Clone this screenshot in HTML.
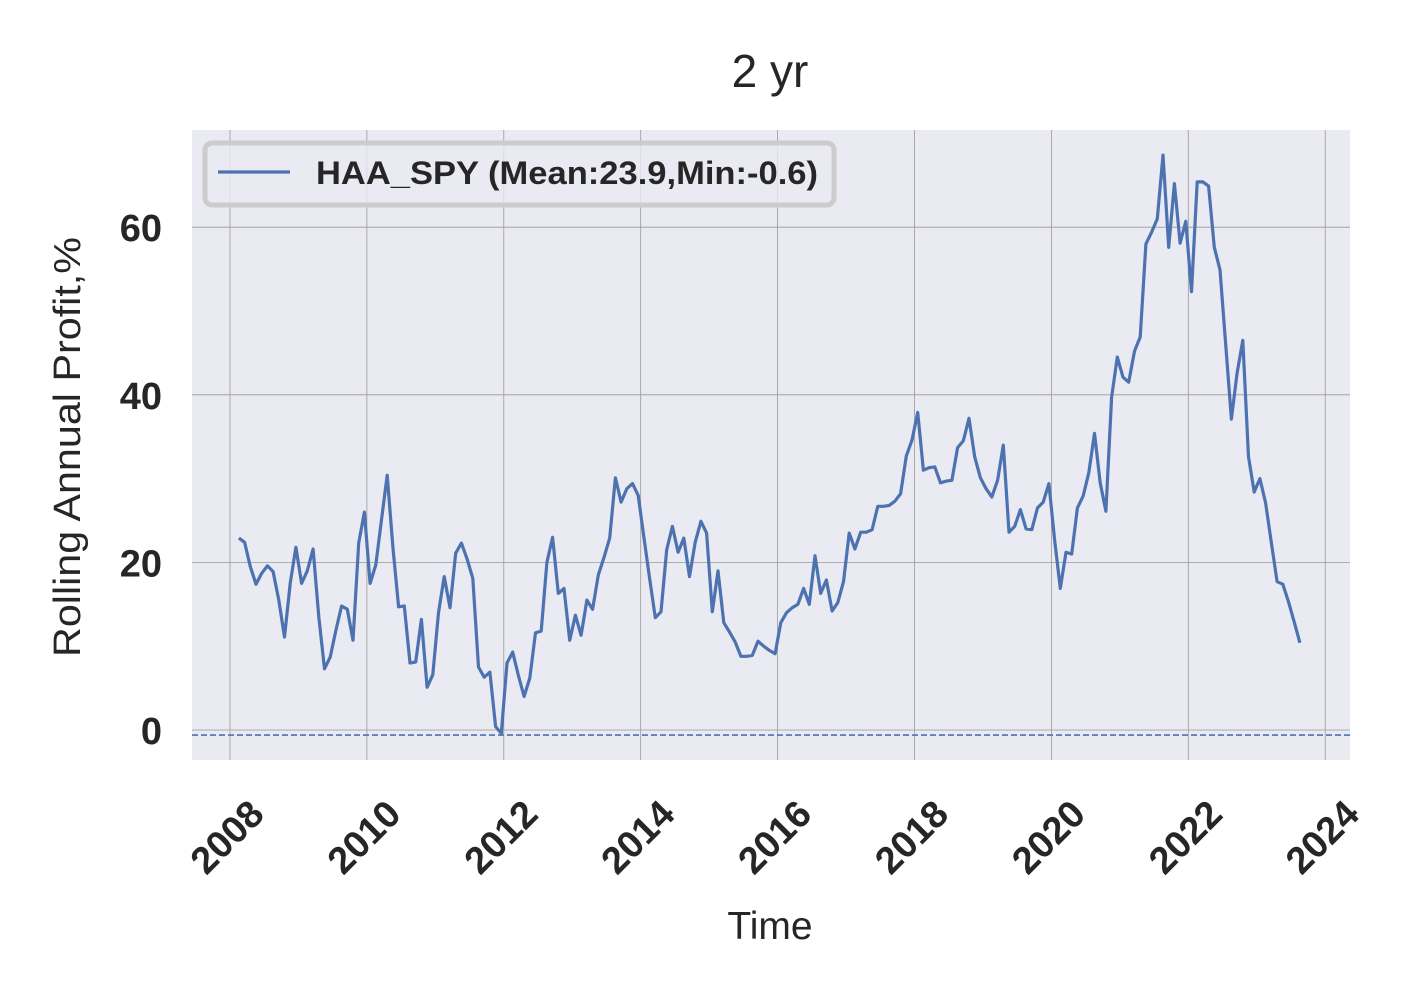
<!DOCTYPE html>
<html><head><meta charset="utf-8"><style>
html,body{margin:0;padding:0;background:#fff;}
svg text{font-family:"Liberation Sans",sans-serif;fill:#262626;}
</style></head><body>
<svg id="chart" width="1419" height="996" xmlns="http://www.w3.org/2000/svg">
<text x="770" y="87" font-size="46" text-anchor="middle">2 yr</text>
<rect x="192" y="130" width="1158" height="630" fill="#eaeaf2"/>
<g id="grid"></g>
<g id="ticks"></g>
<line id="minline" stroke="#4c72b0" stroke-width="1.6" stroke-dasharray="6,3"/>
<path id="series" fill="none" stroke="#4c72b0" stroke-width="3.2" stroke-linejoin="round"/>
<g>
<rect x="205" y="143" width="629" height="62" rx="7" fill="#eaeaf2" fill-opacity="0.8" stroke="#cccccc" stroke-width="5"/>
<line x1="218" y1="172" x2="290" y2="172" stroke="#4c72b0" stroke-width="3.2"/>
<text x="316" y="184" font-size="32" font-weight="bold" textLength="502" lengthAdjust="spacingAndGlyphs">HAA_SPY (Mean:23.9,Min:-0.6)</text>
</g>
<text transform="translate(80,447) rotate(-90)" font-size="38" text-anchor="middle" textLength="420" lengthAdjust="spacingAndGlyphs">Rolling Annual Profit,%</text>
<text x="770" y="939" font-size="39" text-anchor="middle">Time</text>
</svg>
<script>
const startYear = 2008.13;
const values = [22.9,22.4,19.5,17.4,18.7,19.6,18.9,15.5,11.1,17.5,21.8,17.5,19.0,21.6,13.5,7.3,8.7,11.9,14.8,14.4,10.7,22.3,26.0,17.5,19.7,25.1,30.4,21.8,14.7,14.8,8.0,8.1,13.2,5.1,6.6,14.0,18.3,14.6,21.1,22.3,20.4,18.1,7.5,6.3,6.9,0.4,-0.4,8.0,9.3,6.5,4.0,6.2,11.6,11.8,20.0,23.0,16.3,16.9,10.7,13.7,11.3,15.5,14.4,18.5,20.6,22.9,30.1,27.2,28.8,29.4,28.0,23.0,18.1,13.4,14.1,21.5,24.3,21.2,22.9,18.3,22.4,24.9,23.5,14.1,19.0,12.8,11.7,10.5,8.8,8.8,8.9,10.6,10.0,9.5,9.1,12.8,14.0,14.6,15.0,16.9,15.0,20.8,16.3,17.9,14.2,15.2,17.7,23.5,21.6,23.6,23.6,23.9,26.7,26.7,26.8,27.3,28.2,32.7,34.6,37.9,31.0,31.3,31.4,29.5,29.7,29.8,33.7,34.5,37.2,32.6,30.1,28.8,27.8,29.8,34.0,23.6,24.3,26.3,24.0,23.9,26.5,27.2,29.4,22.7,16.9,21.2,21.0,26.5,27.9,30.7,35.4,29.5,26.1,39.7,44.5,42.1,41.5,45.2,46.9,58.0,59.4,61.0,68.6,57.6,65.2,58.1,60.7,52.3,65.4,65.4,64.9,57.6,54.9,46.0,37.1,42.6,46.5,32.6,28.4,30.0,27.1,22.3,17.7,17.4,15.3,12.9,10.4];
const xTicks = [2008,2010,2012,2014,2016,2018,2020,2022,2024];
const yTicks = [0,20,40,60];
const minValue = -0.6;

const NS = "http://www.w3.org/2000/svg";
const X0 = 192, X1 = 1350, Y0 = 130, Y1 = 760;
function xScale(yr){ return 230 + (yr - 2008) * 68.45; }
function yScale(v){ return 730 - v * 8.38; }
const grid = document.getElementById('grid');
const ticks = document.getElementById('ticks');
xTicks.forEach(t => {
  const l = document.createElementNS(NS,'line');
  
  
  l.setAttribute('x1', xScale(t)); l.setAttribute('x2', xScale(t));
  l.setAttribute('y1', Y0); l.setAttribute('y2', Y1);
  l.setAttribute('stroke', '#999'); l.setAttribute('stroke-width', '0.8');
  grid.appendChild(l);
  const tx = document.createElementNS(NS,'text');
  
  
  const cx = xScale(t) - 3, cy = 837;
  tx.setAttribute('transform', `translate(${cx},${cy}) rotate(-45)`);
  tx.setAttribute('text-anchor', 'middle');
  tx.setAttribute('dy', '13');
  tx.setAttribute('font-size', '38');
  tx.setAttribute('font-weight', 'bold');
  tx.textContent = t;
  ticks.appendChild(tx);
});
yTicks.forEach(t => {
  const l = document.createElementNS(NS,'line');
  
  
  l.setAttribute('x1', X0); l.setAttribute('x2', X1);
  l.setAttribute('y1', yScale(t)); l.setAttribute('y2', yScale(t));
  l.setAttribute('stroke', '#999'); l.setAttribute('stroke-width', '0.8');
  grid.appendChild(l);
  const tx = document.createElementNS(NS,'text');
  
  
  tx.setAttribute('x', 162); tx.setAttribute('y', yScale(t) + 14);
  tx.setAttribute('text-anchor', 'end');
  tx.setAttribute('font-size', '38');
  tx.setAttribute('font-weight', 'bold');
  tx.textContent = t;
  ticks.appendChild(tx);
});
const ml = document.getElementById('minline');
ml.setAttribute('x1', X0); ml.setAttribute('x2', X1);
ml.setAttribute('y1', yScale(minValue)); ml.setAttribute('y2', yScale(minValue));
let d = '';
values.forEach((v,i) => {
  const x = xScale(startYear + i/12), y = yScale(v);
  d += (i ? 'L' : 'M') + x.toFixed(1) + ',' + y.toFixed(1);
});
document.getElementById('series').setAttribute('d', d);
</script>
</body></html>
